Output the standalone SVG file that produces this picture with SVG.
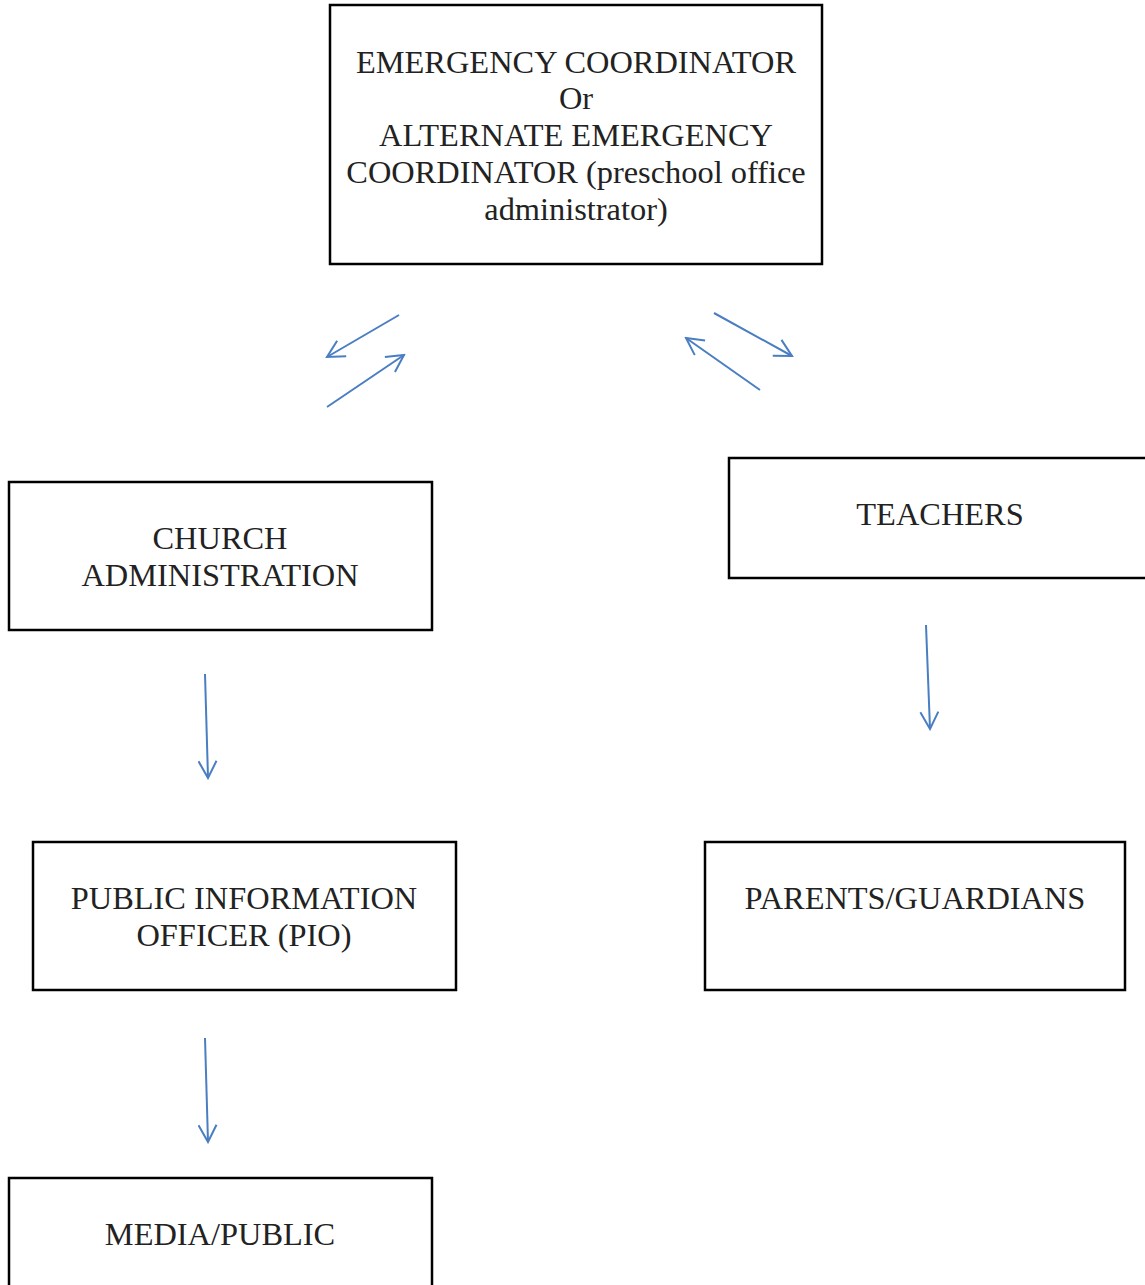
<svg xmlns="http://www.w3.org/2000/svg" width="1145" height="1285" viewBox="0 0 1145 1285">
<defs>
<style>
.box{fill:#fff;stroke:#000;stroke-width:2.5}
.t{font-family:"Liberation Serif","Times New Roman",serif;font-size:32.4px;fill:#222;text-anchor:middle}
.c{stroke:#4A7EC2;stroke-width:2;fill:none}
</style>
<marker id="ah" viewBox="0 0 20 20" refX="18" refY="10" markerWidth="20" markerHeight="20" markerUnits="userSpaceOnUse" orient="auto">
<path d="M1,1 L18,10 L1,19" fill="none" stroke="#4A7EC2" stroke-width="2"/>
</marker>
</defs>
<rect width="1145" height="1285" fill="#fff"/>
<g id="coordinator">
<rect class="box" x="330" y="5" width="492" height="259"/>
<text class="t" x="576" y="73">EMERGENCY COORDINATOR</text>
<text class="t" x="576" y="109">Or</text>
<text class="t" x="576" y="146">ALTERNATE EMERGENCY</text>
<text class="t" x="576" y="183">COORDINATOR (preschool office</text>
<text class="t" x="576" y="220">administrator)</text>
</g>
<g id="church">
<rect class="box" x="9" y="482" width="423" height="148"/>
<text class="t" x="220" y="549">CHURCH</text>
<text class="t" x="220" y="586">ADMINISTRATION</text>
</g>
<g id="teachers">
<rect class="box" x="729" y="458" width="430" height="120"/>
<text class="t" x="940" y="525">TEACHERS</text>
</g>
<g id="pio">
<rect class="box" x="33" y="842" width="423" height="148"/>
<text class="t" x="244" y="909">PUBLIC INFORMATION</text>
<text class="t" x="244" y="946">OFFICER (PIO)</text>
</g>
<g id="parents">
<rect class="box" x="705" y="842" width="420" height="148"/>
<text class="t" x="915" y="909">PARENTS/GUARDIANS</text>
</g>
<g id="media">
<rect class="box" x="9" y="1178" width="423" height="130"/>
<text class="t" x="220" y="1245">MEDIA/PUBLIC</text>
</g>
<g id="connectors">
<line class="c" x1="399" y1="315" x2="327" y2="357" marker-end="url(#ah)"/>
<line class="c" x1="327" y1="407" x2="404" y2="355" marker-end="url(#ah)"/>
<line class="c" x1="714" y1="313" x2="792" y2="356" marker-end="url(#ah)"/>
<line class="c" x1="760" y1="390" x2="686" y2="338" marker-end="url(#ah)"/>
<line class="c" x1="205" y1="674" x2="208" y2="778" marker-end="url(#ah)"/>
<line class="c" x1="926" y1="625" x2="930" y2="729" marker-end="url(#ah)"/>
<line class="c" x1="205" y1="1038" x2="208" y2="1142" marker-end="url(#ah)"/>
</g>
</svg>
